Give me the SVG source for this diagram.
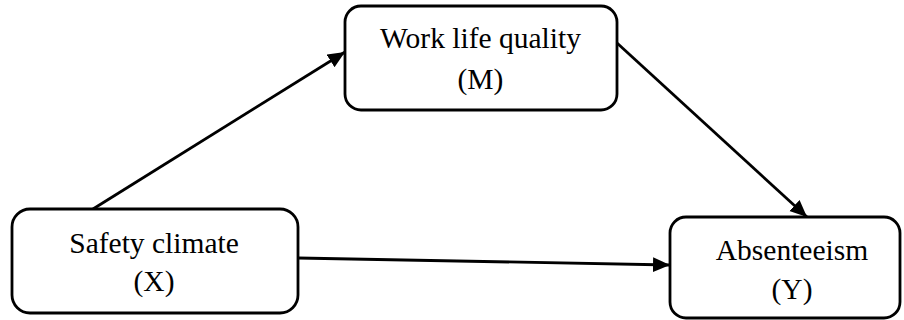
<svg xmlns="http://www.w3.org/2000/svg" width="904" height="320" viewBox="0 0 904 320">
<style>
.box{fill:#fff;stroke:#000;stroke-width:2.8}
.lbl{font-family:"Liberation Serif","Times New Roman",serif;font-size:29.5px;fill:#000;text-anchor:middle}
.conn{stroke:#000;stroke-width:2.8;fill:none}
</style>
<defs>
<marker id="ah" markerUnits="userSpaceOnUse" markerWidth="20" markerHeight="18" refX="17" refY="7.5" orient="auto">
<path d="M0,0 L17,7.5 L0,15 Z" fill="#000"/>
</marker>
</defs>
<rect width="904" height="320" fill="#fff"/>
<g id="connectors">
<line class="conn" x1="93" y1="209" x2="345" y2="52" marker-end="url(#ah)"/>
<line class="conn" x1="617" y1="43" x2="807" y2="217" marker-end="url(#ah)"/>
<line class="conn" x1="298" y1="258" x2="670" y2="265" marker-end="url(#ah)"/>
</g>
<g id="node-x">
<rect class="box" x="12" y="209" width="286" height="104" rx="18"/>
<text class="lbl" x="154" y="253">Safety climate</text>
<text class="lbl" x="154" y="291">(X)</text>
</g>
<g id="node-m">
<rect class="box" x="345" y="6" width="272" height="104" rx="16"/>
<text class="lbl" x="480.5" y="48">Work life quality</text>
<text class="lbl" x="480.5" y="89">(M)</text>
</g>
<g id="node-y">
<rect class="box" x="670" y="217" width="230" height="101" rx="16"/>
<text class="lbl" x="792" y="260">Absenteeism</text>
<text class="lbl" x="792" y="299">(Y)</text>
</g>
</svg>
